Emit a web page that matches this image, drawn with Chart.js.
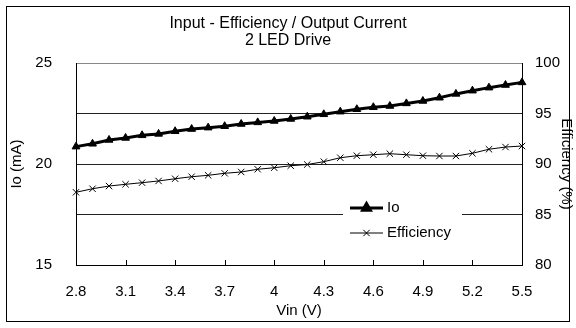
<!DOCTYPE html>
<html lang="en">
<head>
  <meta charset="UTF-8" />
  <title>Input - Efficiency / Output Current</title>
  <style>
    body { margin: 0; background: #fff; }
    canvas { display: block; }
  </style>
</head>
<body>
  <canvas id="grafico" width="576" height="328"></canvas>

  <script src="https://cdn.jsdelivr.net/npm/chart.js"></script>
  <script>
    // Vin (V) steps, 0.1 V apart
    const vin = ['2.8', '2.9', '3', '3.1', '3.2', '3.3', '3.4', '3.5', '3.6', '3.7',
                 '3.8', '3.9', '4', '4.1', '4.2', '4.3', '4.4', '4.5', '4.6', '4.7',
                 '4.8', '4.9', '5', '5.1', '5.2', '5.3', '5.4', '5.5'];
    // output current, mA (left axis)
    const io = [20.86, 21.00, 21.19, 21.29, 21.42, 21.49, 21.62, 21.73, 21.80, 21.87,
                21.98, 22.06, 22.13, 22.23, 22.34, 22.46, 22.59, 22.71, 22.81, 22.87,
                23.00, 23.12, 23.28, 23.47, 23.63, 23.78, 23.91, 24.04];
    // efficiency, % (right axis)
    const eficiencia = [87.20, 87.55, 87.82, 87.99, 88.15, 88.32, 88.54, 88.74, 88.88, 89.08,
                        89.21, 89.48, 89.63, 89.83, 89.95, 90.23, 90.62, 90.82, 90.92, 91.02,
                        90.92, 90.82, 90.79, 90.79, 91.06, 91.46, 91.68, 91.78];
    const ticksIo = [15, 20, 25];
    const ticksEf = [80, 85, 90, 95, 100];

    const fonte = "'Liberation Sans', Arial, sans-serif";
    Chart.defaults.font.family = fonte;
    Chart.defaults.font.size = 15;
    Chart.defaults.color = '#000';

    // white background + outer frame
    const moldura = {
      id: 'moldura',
      beforeDraw(chart) {
        const ctx = chart.ctx;
        ctx.save();
        ctx.fillStyle = '#fff';
        ctx.fillRect(0, 0, chart.width, chart.height);
        ctx.strokeStyle = '#000';
        ctx.lineWidth = 1;
        ctx.strokeRect(6.5, 6.5, 563, 315);
        ctx.restore();
      }
    };

    // small tick marks pointing into the plot on the x axis
    const marcasX = {
      id: 'marcasX',
      afterDatasetsDraw(chart) {
        const { ctx, chartArea, scales } = chart;
        ctx.save();
        ctx.strokeStyle = '#000';
        ctx.lineWidth = 1;
        vin.forEach((v, i) => {
          if (i % 3) return;
          const px = Math.round(scales.x.getPixelForValue(i)) + 0.5;
          ctx.beginPath();
          ctx.moveTo(px, chartArea.bottom);
          ctx.lineTo(px, chartArea.bottom - 5);
          ctx.stroke();
        });
        ctx.restore();
      }
    };

    // legend drawn inside the plot area
    const legendaInterna = {
      id: 'legendaInterna',
      afterDraw(chart) {
        const ctx = chart.ctx;
        const caixa = { x: 343, y: 196, w: 119, h: 50 };
        ctx.save();
        ctx.fillStyle = '#fff';
        ctx.fillRect(caixa.x, caixa.y, caixa.w, caixa.h);
        chart.data.datasets.forEach((ds, i) => {
          const y = 208 + i * 25;
          ctx.strokeStyle = ds.borderColor;
          ctx.lineWidth = ds.borderWidth;
          ctx.beginPath();
          ctx.moveTo(350, y);
          ctx.lineTo(383, y);
          ctx.stroke();
          ctx.fillStyle = ds.pointBackgroundColor;
          ctx.strokeStyle = ds.pointBorderColor;
          Chart.helpers.drawPoint(ctx, {
            pointStyle: ds.pointStyle,
            radius: ds.pointRadius,
            borderWidth: ds.pointBorderWidth,
            rotation: 0
          }, 366.5, y);
          ctx.fillStyle = '#000';
          ctx.font = '15px ' + fonte;
          ctx.textBaseline = 'middle';
          ctx.textAlign = 'left';
          ctx.fillText(ds.label, 387, y);
        });
        ctx.restore();
      }
    };

    new Chart(document.getElementById('grafico'), {
      type: 'line',
      data: {
        labels: vin,
        datasets: [
          {
            label: 'Io',
            data: io,
            yAxisID: 'y',
            borderColor: '#000',
            borderWidth: 3,
            pointStyle: 'triangle',
            pointRadius: 4.5,
            pointBackgroundColor: '#000',
            pointBorderColor: '#000',
            pointBorderWidth: 1,
            tension: 0
          },
          {
            label: 'Efficiency',
            data: eficiencia,
            yAxisID: 'y1',
            borderColor: '#000',
            borderWidth: 1,
            pointStyle: 'crossRot',
            pointRadius: 4.5,
            pointBackgroundColor: '#000',
            pointBorderColor: '#000',
            pointBorderWidth: 1,
            tension: 0
          }
        ]
      },
      options: {
        responsive: false,
        animation: false,
        layout: { padding: 0 },
        plugins: {
          legend: { display: false },
          tooltip: { enabled: false },
          title: {
            display: true,
            text: ['Input - Efficiency / Output Current', '2 LED Drive'],
            color: '#000',
            font: { size: 16, weight: 'normal', lineHeight: 1.05 },
            padding: { top: 15, bottom: 14.4 }
          }
        },
        scales: {
          x: {
            type: 'category',
            grid: { display: false },
            border: { display: true, color: '#000', width: 1 },
            ticks: {
              autoSkip: false,
              maxRotation: 0,
              padding: 10,
              callback(val, i) { return i % 3 === 0 ? this.getLabelForValue(val) : ''; }
            },
            title: { display: true, text: 'Vin (V)', padding: { top: 0, bottom: 8 } },
            afterFit(scale) { scale.height = 63; }
          },
          y: {
            position: 'left',
            min: ticksIo[0],
            max: ticksIo[ticksIo.length - 1],
            grid: { display: false },
            border: { display: true, color: '#000', width: 1 },
            ticks: { stepSize: ticksIo[1] - ticksIo[0], padding: 16 },
            title: { display: true, text: 'Io (mA)', padding: { top: 8, bottom: 0 } },
            afterFit(scale) { scale.width = 76; }
          },
          y1: {
            position: 'right',
            min: ticksEf[0],
            max: ticksEf[ticksEf.length - 1],
            grid: {
              drawTicks: false,
              color: ctx => ctx.tick && ctx.tick.value === 100 ? '#888' : '#222',
              lineWidth: 1
            },
            border: { display: true, color: '#000', width: 1 },
            ticks: { stepSize: ticksEf[1] - ticksEf[0], padding: 13 },
            title: { display: true, text: 'Efficiency (%)', padding: { top: 1, bottom: 0 } },
            afterFit(scale) { scale.width = 54; }
          }
        }
      },
      plugins: [moldura, marcasX, legendaInterna]
    });
  </script>
</body>
</html>
